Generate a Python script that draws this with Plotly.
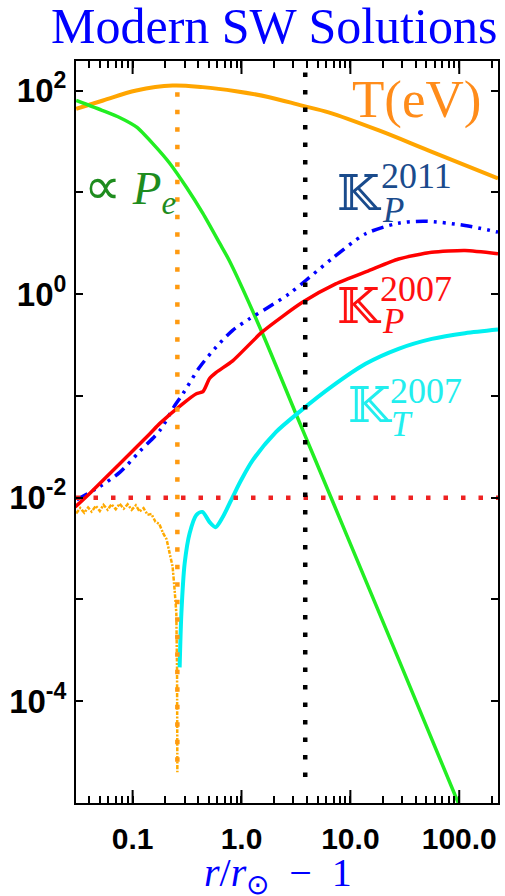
import math
import plotly.graph_objects as go

# ---- data: radial profiles vs r/r_sun - 1 ----
t_ev_x = [0.0303, 0.0535, 0.108, 0.233, 0.44, 0.89, 1.8, 3.6, 6.3, 18.3, 52.5, 227]
t_ev_y = [66, 79.8, 100, 112, 108, 98.5, 86, 71, 61, 40.5, 25.7, 13.7]

pe_x = [0.0303, 0.054, 0.0766, 0.109, 0.154, 0.219, 0.312, 0.442, 0.63, 0.772,
        1.56, 3.16, 4.64, 9.3, 27.7, 98]
pe_y = [79.8, 63, 54, 43.6, 29.9, 19.3, 11.2, 6.2, 3.16, 2.14,
        0.41, 0.0667, 0.0251, 4.24e-3, 2.59e-4, 1.0e-5]

kp2011_x = [0.0307, 0.0502, 0.0766, 0.1166, 0.178, 0.244, 0.29, 0.412, 0.586, 0.83,
            1.18, 1.68, 2.74, 3.89, 6.82, 13.8, 27.7, 48.6, 113, 227]
kp2011_y = [9.55e-3, 1.29e-2, 1.78e-2, 2.86e-2, 4.57e-2, 8.05e-2, 0.105, 0.191, 0.302, 0.44,
            0.571, 0.718, 1.007, 1.36, 2.24, 3.91, 4.97, 5.2, 4.72, 4.06]

kp2007_x = [0.0297, 0.041, 0.0766, 0.144, 0.178, 0.29, 0.385, 0.443, 0.509, 0.586, 0.83,
            1.56, 3.63, 7.33, 14.8, 27.7, 55.9, 113, 227]
kp2007_y = [8.1e-3, 1.12e-2, 2.17e-2, 4.25e-2, 5.37e-2, 8.4e-2, 0.105, 0.110, 0.148, 0.17, 0.221,
            0.427, 0.83, 1.26, 1.70, 2.21, 2.57, 2.68, 2.49]

kt2007_x = [0.2704, 0.2805, 0.3006, 0.334, 0.385, 0.4365, 0.509, 0.577, 0.673, 0.832, 0.991,
            1.265, 2.07, 3.38, 6.82, 13.8, 27.7, 56, 113, 227]
kt2007_y = [2.15e-4, 7.28e-4, 2.26e-3, 4.47e-3, 6.76e-3, 7.24e-3, 5.75e-3, 5.13e-3, 6.46e-3,
            1.02e-2, 1.48e-2, 2.32e-2, 4.4e-2, 6.92e-2, 0.1245, 0.2065, 0.29, 0.363, 0.413, 0.449]

# noisy low-corona profile that collapses near the temperature peak
noisy_x = [0.0303, 0.033, 0.036, 0.039, 0.042, 0.046, 0.050, 0.054, 0.059, 0.064, 0.070,
           0.076, 0.083, 0.090, 0.098, 0.107, 0.116, 0.126, 0.137, 0.149, 0.162, 0.176,
           0.190, 0.205, 0.218, 0.233, 0.243, 0.252, 0.256, 0.2576]
noisy_y = [7.0e-3, 7.9e-3, 7.1e-3, 8.0e-3, 7.3e-3, 8.3e-3, 7.4e-3, 8.5e-3, 7.6e-3, 8.6e-3, 7.7e-3,
           8.7e-3, 7.8e-3, 8.6e-3, 7.6e-3, 8.4e-3, 7.3e-3, 7.9e-3, 6.8e-3, 6.9e-3, 5.8e-3, 5.5e-3,
           4.5e-3, 3.9e-3, 2.9e-3, 2.1e-3, 1.25e-3, 7.4e-4, 2.0e-4, 2.0e-5]

# reference markers
t_peak_x = 0.2576          # location of temperature maximum
t_peak_span = [2.0e-5, 96]
sonic_x = 3.85             # vertical reference radius
sonic_span = [1.45e-5, 150]
k_floor_y = 0.01           # horizontal reference level
k_floor_span = [0.0302, 227]

x_range = [-1.52, 2.356]
y_range = [-5.0, 2.29]
x_major = [0.1, 1, 10, 100]
x_major_text = ["0.1", "1.0", "10.0", "100.0"]
x_minor = [m * 10.0 ** e for e in range(-2, 3) for m in range(2, 10)]
x_minor = [v for v in x_minor if 10 ** x_range[0] < v < 10 ** x_range[1]]
y_exps = list(range(-5, 3))

# every x tick (major and minor) lives on the axis; only majors carry labels
x_ticks = sorted([(v, "") for v in x_minor] +
                 [(v, "<b>%s</b>" % t) for v, t in zip(x_major, x_major_text)])

L, R, T, B = 76, 500, 61, 803
W, H = 505, 896

fig = go.Figure()

def curve(x, y, color, width, dash="solid", smooth=1.0):
    fig.add_trace(go.Scatter(
        x=x, y=y, mode="lines",
        line=dict(color=color, width=width, dash=dash, shape="spline", smoothing=smooth),
        showlegend=False, hoverinfo="skip"))

curve(noisy_x, noisy_y, "#FFAA00", 2.5, dash="4px,1.5px,2px,1.5px", smooth=0)
curve(t_ev_x, t_ev_y, "#FFA500", 4.0)
curve(pe_x, pe_y, "#22EE22", 3.5, smooth=0.6)
curve(kp2011_x, kp2011_y, "#0000FF", 3.5, dash="12px,6px,3px,6px,3px,6px,3px,6px", smooth=0.8)
curve(kp2007_x, kp2007_y, "#FF0000", 3.5, smooth=0.6)
curve(kt2007_x, kt2007_y, "#00F0F0", 4.0, smooth=0.8)

dots = "4.5px,13px"
fig.add_trace(go.Scatter(x=k_floor_span, y=[k_floor_y, k_floor_y], mode="lines",
                         line=dict(color="#EE2222", width=4.5, dash=dots),
                         showlegend=False, hoverinfo="skip"))
fig.add_trace(go.Scatter(x=[t_peak_x, t_peak_x], y=t_peak_span[::-1], mode="lines",
                         line=dict(color="#FF9A10", width=4.5, dash=dots),
                         showlegend=False, hoverinfo="skip"))
fig.add_trace(go.Scatter(x=[sonic_x, sonic_x], y=sonic_span[::-1], mode="lines",
                         line=dict(color="black", width=4.5, dash=dots),
                         showlegend=False, hoverinfo="skip"))

# longer major ticks on bottom and top frame
major_len = 13.0 / (B - T)
shapes = []
for v in x_major:
    fx = (math.log10(v) - x_range[0]) / (x_range[1] - x_range[0])
    for y0, y1 in [(0, major_len), (1 - major_len, 1)]:
        shapes.append(dict(type="line", xref="paper", yref="paper",
                           x0=fx, x1=fx, y0=y0, y1=y1, layer="above",
                           line=dict(color="black", width=2)))

def px(x):
    return (x - L) / (R - L)

def py(y):
    return (B - y) / (B - T)

serif = "Liberation Serif, Times New Roman, serif"
ann = []

def label(text, x, y, color, size, family=serif, xanchor="center"):
    ann.append(dict(text=text, x=px(x), y=py(y), xref="paper", yref="paper",
                    xanchor=xanchor, yanchor="middle", showarrow=False,
                    font=dict(family=family, size=size, color=color)))

label("Modern SW Solutions", 275, 26, "#0000FF", 50)
label("T(eV)", 418, 99, "#FF8C1A", 53)
label("<span style='font-size:52px'>∝</span> <i>P</i><sub><i>e</i></sub>", 130, 190, "#1E8C1E", 47)

kfont = "DejaVu Serif, DejaVu Sans, serif"
for (kx, ky, sx, sy, bx, by, sup, sub, col) in [
        (361, 193, 418, 176, 395, 211, "2011", "P", "#1A4B8C"),
        (361, 306, 418, 289, 395, 321, "2007", "P", "#FF1010"),
        (372, 405, 428, 391, 404, 424, "2007", "T", "#22EEEE")]:
    label("𝕂", kx, ky, col, 49, family=kfont)
    label(sup, sx, sy, col, 36)
    label("<i>%s</i>" % sub, bx, by, col, 35)

label("<i>r</i>/<i>r</i><sub>⊙</sub>&nbsp;&nbsp;−&nbsp;&nbsp;1", 279, 875, "#0000FF", 40)

axis_common = dict(type="log", showgrid=False, zeroline=False, showline=True,
                   linewidth=2, linecolor="black", mirror="ticks",
                   ticks="inside", tickcolor="black", tickwidth=2)

fig.update_layout(
    width=W, height=H,
    margin=dict(l=L, r=W - R, t=T, b=H - B),
    paper_bgcolor="white", plot_bgcolor="white",
    annotations=ann,
    shapes=shapes,
    xaxis=dict(**axis_common, range=x_range, ticklen=7,
               tickmode="array", tickvals=[v for v, _ in x_ticks],
               ticktext=[t for _, t in x_ticks],
               tickfont=dict(family="Liberation Sans, Arial, sans-serif", size=30, color="black"),
               ticklabelstandoff=8),
    yaxis=dict(**axis_common, range=y_range, ticklen=7,
               tickmode="array", tickvals=[10.0 ** e for e in y_exps],
               ticktext=["<b>10<sup>%d</sup></b>" % e if e % 2 == 0 else "" for e in y_exps],
               tickfont=dict(family="Liberation Sans, Arial, sans-serif", size=33, color="black"),
               ticklabelstandoff=1),
)

fig.write_html("out.html")
